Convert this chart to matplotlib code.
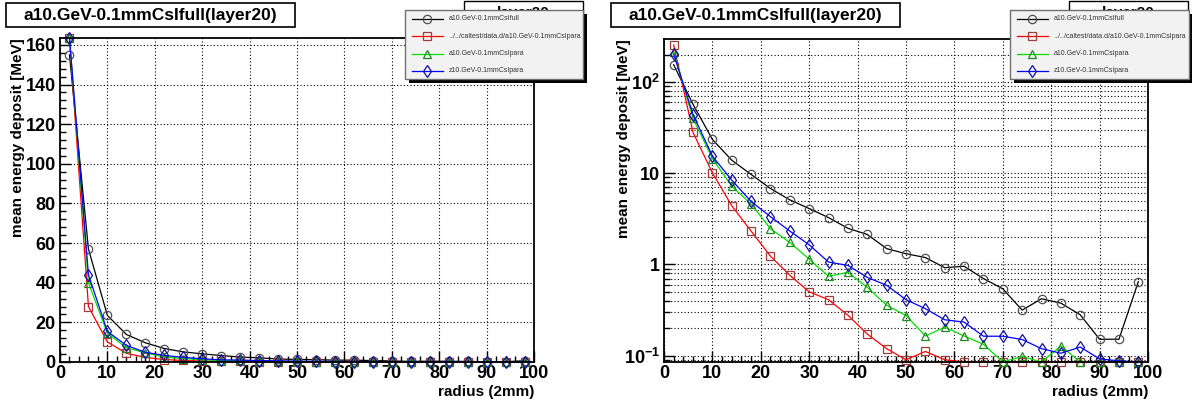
import numpy as np
import matplotlib
matplotlib.use("Agg")
import matplotlib.pyplot as plt
from matplotlib.patches import Rectangle
from matplotlib.lines import Line2D
from matplotlib.ticker import MultipleLocator, LogLocator, NullFormatter

plt.rcParams['font.family'] = ['Liberation Sans', 'DejaVu Sans']
plt.rcParams['mathtext.fontset'] = 'custom'
plt.rcParams['mathtext.rm'] = 'Liberation Sans:bold'
plt.rcParams['mathtext.it'] = 'Liberation Sans:bold'

#%% DATA
radius = [2, 6, 10, 14, 18, 22, 26, 30, 34, 38, 42, 46, 50,
          54, 58, 62, 66, 70, 74, 78, 82, 86, 90, 94, 98]

e_full  = [155, 57, 23.5, 13.9, 9.7, 6.8, 5.1, 4.1, 3.26, 2.49, 2.13, 1.49, 1.31,
           1.19, 0.92, 0.955, 0.70, 0.54, 0.315, 0.42, 0.376, 0.28, 0.151, 0.151, 0.647]
e_cpara = [255, 28, 10.1, 4.4, 2.32, 1.23, 0.76, 0.50, 0.41, 0.277, 0.172, 0.119, 0.090,
           0.111, 0.090, 0, 0, 0, 0, 0, 0, 0, 0, 0, 0]
e_apara = [215, 40, 14.5, 7.2, 4.6, 2.46, 1.74, 1.14, 0.74, 0.82, 0.56, 0.356, 0.275,
           0.164, 0.205, 0.164, 0.133, 0, 0.098, 0, 0.127, 0, 0, 0, 0]
e_zpara = [203, 44, 15.4, 8.4, 4.9, 3.34, 2.32, 1.64, 1.06, 0.975, 0.72, 0.59, 0.41,
           0.327, 0.247, 0.233, 0.163, 0.163, 0.15, 0.119, 0.106, 0.124, 0.092, 0.0875, 0]

labels = ["a10.GeV-0.1mmCsIfull",
          "../../caltest/data.d/a10.GeV-0.1mmCsIpara",
          "a10.GeV-0.1mmCsIpara",
          "z10.GeV-0.1mmCsIpara"]
title = "a10.GeV-0.1mmCsIfull(layer20)"

# line colour, marker, marker edge colour
styles = [("#000000", "o", "#505050"),
          ("#ff0000", "s", "#a03c3c"),
          ("#00e000", "^", "#1f8a1f"),
          ("#0000ff", "d", "#1010a0")]
series = [e_full, e_cpara, e_apara, e_zpara]

#%% FIGURE
W, H = 1192, 403
fig = plt.figure(figsize=(W/100, H/100), dpi=100)

def fbox(x0, y0, x1, y1):
    # pixel box (top-left origin) -> figure fraction rect
    return [x0/W, 1 - y1/H, (x1 - x0)/W, (y1 - y0)/H]

def fpt(x, y):
    return x/W, 1 - y/H

grid_kw = dict(color="black", linestyle=(0, (1, 2)), linewidth=0.8)

def style_axes(ax):
    ax.set_xlim(0, 100)
    ax.xaxis.set_major_locator(MultipleLocator(10))
    ax.xaxis.set_minor_locator(MultipleLocator(2))
    ax.tick_params(which="both", direction="in", top=False, right=False,
                   labelsize=13, width=1)
    ax.tick_params(which="major", length=8)
    ax.tick_params(which="minor", length=4)
    ax.tick_params(axis="x", pad=2)
    ax.tick_params(axis="y", pad=3)
    for lab in ax.get_xticklabels() + ax.get_yticklabels():
        lab.set_fontweight("bold")
    for s in ax.spines.values():
        s.set_linewidth(1.3)
    ax.set_xlabel("radius (2mm)", fontsize=11, fontweight="bold", loc="right")
    ax.set_ylabel("mean energy deposit [MeV]", fontsize=11, fontweight="bold", loc="top")
    ax.xaxis.set_label_coords(1.0, -0.071)

#  PLOT 1: LINEAR
ax1 = fig.add_axes(fbox(60, 38, 534, 362))
ymax1 = 163.5
for vals, (lc, mk, mc) in zip(series, styles):
    v = np.clip(vals, 0, ymax1)
    ax1.plot(radius, v, color=lc, lw=0.9, marker=mk, ms=6, mfc="none",
             mec=mc, mew=0.9, clip_on=False)
ax1.set_ylim(0, ymax1)
ax1.yaxis.set_major_locator(MultipleLocator(20))
ax1.yaxis.set_minor_locator(MultipleLocator(4))
ax1.xaxis.grid(True, which="major", **grid_kw)
ax1.yaxis.grid(True, which="major", **grid_kw)
ax1.set_axisbelow(True)
style_axes(ax1)
ax1.yaxis.set_label_coords(-0.074, 1.0)

#  PLOT 2: LOG
ax2 = fig.add_axes(fbox(664, 39, 1148, 362))
ylo, yhi = 0.085, 297
for vals, (lc, mk, mc) in zip(series, styles):
    v = np.clip(vals, ylo, yhi)
    ax2.plot(radius, v, color=lc, lw=0.9, marker=mk, ms=6, mfc="none",
             mec=mc, mew=0.9, clip_on=False)
ax2.set_yscale("log")
ax2.set_ylim(ylo, yhi)
ax2.set_yticks([0.1, 1, 10, 100])
ax2.set_yticklabels([r"$10^{-1}$", "1", "10", r"$10^{2}$"])
ax2.yaxis.set_minor_locator(LogLocator(base=10, subs=np.arange(2, 10), numticks=20))
ax2.yaxis.set_minor_formatter(NullFormatter())
ax2.xaxis.grid(True, which="major", **grid_kw)
ax2.yaxis.grid(True, which="both", **grid_kw)
ax2.set_axisbelow(True)
style_axes(ax2)
ax2.yaxis.set_label_coords(-0.068, 1.0)

#%% TITLE BOXES, LAYER BOXES AND LEGENDS
for tx0, tx1, lx0, lx1, gx0, gx1 in [(6, 295, 464, 583, 405, 583),
                                      (611, 900, 1069, 1188, 1010, 1189)]:
    # title box
    r = fbox(tx0, 3, tx1, 27)
    fig.add_artist(Rectangle(r[:2], r[2], r[3], transform=fig.transFigure,
                             facecolor="white", edgecolor="black", lw=1.2, zorder=5))
    fig.text(*fpt((tx0 + tx1)/2, 15.5), title, ha="center", va="center",
             fontsize=12.5, fontweight="bold", zorder=6)
    # layer20 box (partly hidden by legend)
    r = fbox(lx0, 1, lx1, 20)
    fig.add_artist(Rectangle(r[:2], r[2], r[3], transform=fig.transFigure,
                             facecolor="white", edgecolor="black", lw=1.0, zorder=5))
    fig.text(*fpt((lx0 + lx1)/2, 13.5), "layer20", ha="center", va="center",
             fontsize=11, fontweight="bold", zorder=6)
    # legend shadow and box
    s = fbox(gx0 + 4, 14, gx1 + 4, 83)
    fig.add_artist(Rectangle(s[:2], s[2], s[3], transform=fig.transFigure,
                             facecolor="black", edgecolor="black", lw=0, zorder=7))
    b = fbox(gx0, 10, gx1, 79)
    fig.add_artist(Rectangle(b[:2], b[2], b[3], transform=fig.transFigure,
                             facecolor="#f2f2f2", edgecolor="#707070", lw=1.0, zorder=8))
    for i, (lab, (lc, mk, mc)) in enumerate(zip(labels, styles)):
        yy = 18.7 + i*17.4
        xa, ya = fpt(gx0 + 7, yy)
        xb, _ = fpt(gx0 + 38, yy)
        xm, _ = fpt(gx0 + 22, yy)
        fig.add_artist(Line2D([xa, xb], [ya, ya], color=lc, lw=0.9,
                              transform=fig.transFigure, zorder=9))
        fig.add_artist(Line2D([xm], [ya], marker=mk, ms=6, mfc="none", mec=mc,
                              mew=0.9, transform=fig.transFigure, zorder=10))
        fig.text(*fpt(gx0 + 44, yy), lab, ha="left", va="center", fontsize=5.0,
                 fontweight="normal", color="#333333", zorder=10)

fig.savefig("out.png", dpi=100)
